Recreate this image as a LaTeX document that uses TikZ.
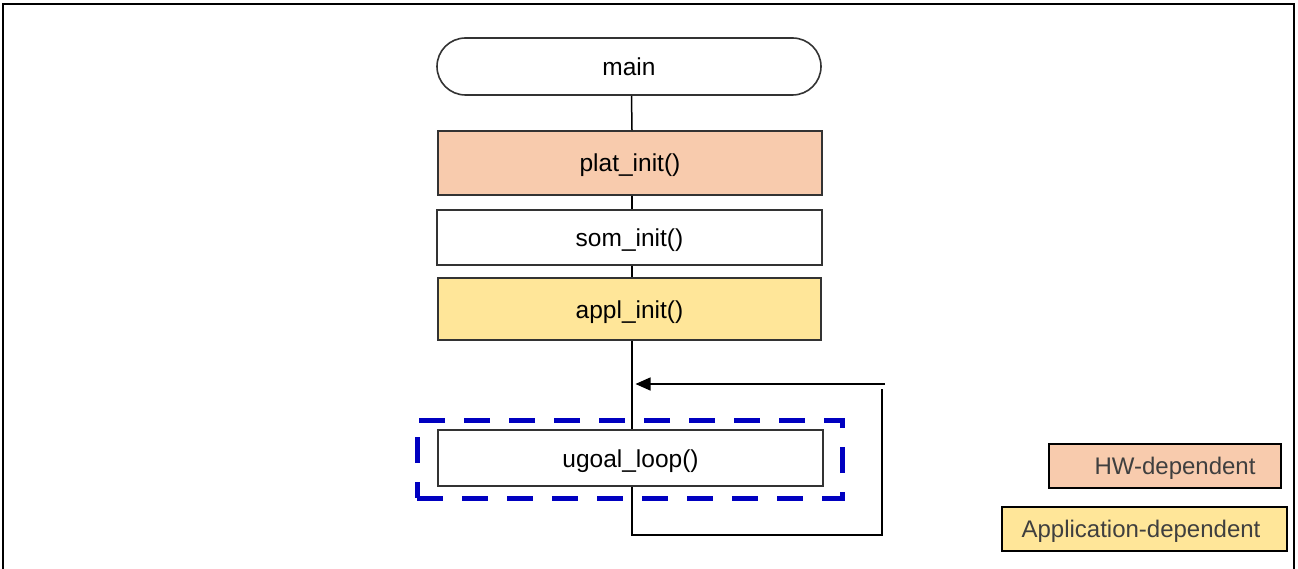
\documentclass[tikz,border=0pt]{standalone}
\usepackage{fontspec}
\setmainfont{Liberation Sans}
\usetikzlibrary{shapes.misc,arrows.meta}
\definecolor{peach}{HTML}{F8CBAD}
\definecolor{sand}{HTML}{FFE699}
\definecolor{edge}{HTML}{333333}
\definecolor{dblue}{HTML}{0000C0}
\definecolor{legtext}{HTML}{3F3F3F}
\begin{document}
\begin{tikzpicture}[x=1pt,y=-1pt,
  box/.style={draw=edge,line width=1.6pt,rectangle,inner sep=0pt,text height=18pt,text depth=0pt,font=\fontsize{24.5}{28}\selectfont},
  legend/.style={draw=black,line width=1.4pt,rectangle,inner sep=0pt},
  legtxt/.style={font=\fontsize{24}{28}\selectfont,text=legtext,inner sep=0pt},
  conn/.style={draw=black,line width=1.5pt}]
\useasboundingbox (0,0) rectangle (1298,569);
\draw[line width=2.2pt] (3,569) -- (3,4) -- (1294,4) -- (1294,569);
\node[box,rounded rectangle,minimum width=384pt,minimum height=57pt] (main) at (629,66.5) {main};
\node[box,fill=peach,minimum width=384pt,minimum height=64pt] (plat) at (630,163) {plat\_init()};
\node[box,fill=white,minimum width=385pt,minimum height=55pt] (som) at (629.5,237.5) {som\_init()};
\node[box,fill=sand,minimum width=383pt,minimum height=62pt] (appl) at (629.5,309) {appl\_init()};
\node[box,fill=white,minimum width=385pt,minimum height=56pt] (ugoal) at (630.5,458) {ugoal\_loop()};
\node[draw=dblue,line width=5pt,dash pattern=on 26pt off 19pt,rectangle,minimum width=425pt,minimum height=78pt] (grp) at (629.5,459) {};
\draw[conn] ([xshift=2.5pt]main.south) -- ([xshift=2pt]plat.north);
\draw[conn] ([xshift=2pt]plat.south) -- ([xshift=2.5pt]som.north);
\draw[conn] ([xshift=2.5pt]som.south) -- ([xshift=2.5pt]appl.north);
\draw[conn] ([xshift=2.5pt]appl.south) -- ([xshift=1.5pt]ugoal.north);
\coordinate (ret) at (882,389);
\coordinate (arr) at (885,384);
\draw[conn] ([xshift=1.5pt]ugoal.south) -- ++(0,48) -| (ret);
\draw[conn,-{Triangle[length=15pt,width=13pt]}] (arr) -- ([xshift=6pt]appl.south |- arr);
\node[legend,fill=peach,minimum width=232pt,minimum height=44pt] (hw) at (1165,466) {};
\node[legtxt] (hwt) at (1175,468) {HW-dependent};
\node[legend,fill=sand,minimum width=285pt,minimum height=44pt] (app) at (1144.5,529) {};
\node[legtxt] (appt) at (1141,531) {Application-dependent};
\end{tikzpicture}
\end{document}
